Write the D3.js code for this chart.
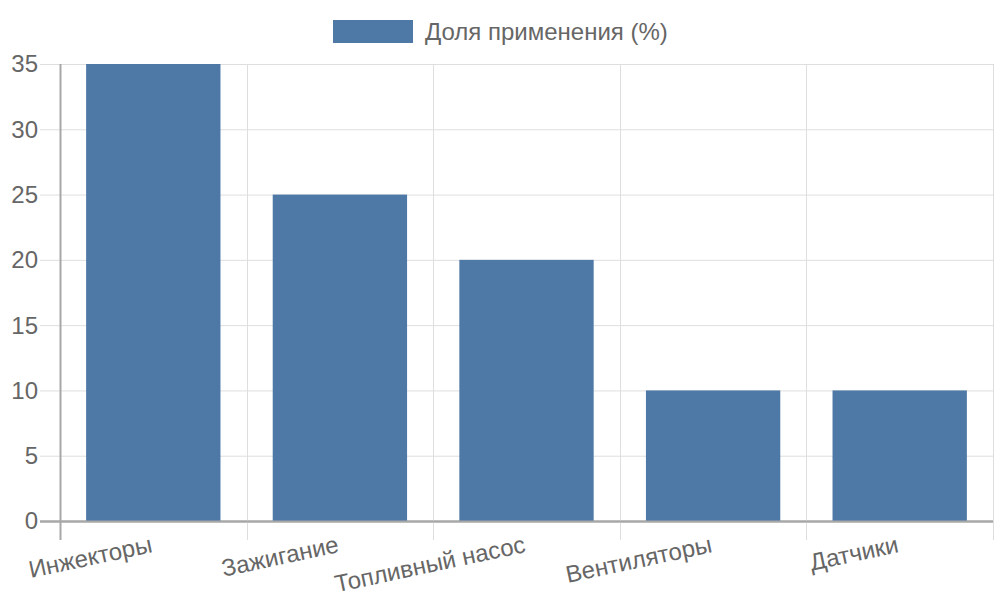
<!DOCTYPE html>
<html lang="ru">
<head>
  <meta charset="UTF-8">
  <title>Доля применения</title>
  <script src="https://d3js.org/d3.v7.min.js"></script>
  <style>
    body { margin: 0; background: #fff; }
    svg text { font-family: "Liberation Sans", Arial, sans-serif; fill: #666; }
  </style>
</head>
<body>
  <script>
    const categories = ["Инжекторы", "Зажигание", "Топливный насос", "Вентиляторы", "Датчики"];
    const values = [35, 25, 20, 10, 10];
    const seriesName = "Доля применения (%)";
    const yTicks = [0, 5, 10, 15, 20, 25, 30, 35];

    const width = 1000, height = 600;
    const margin = { top: 64, right: 7, bottom: 79, left: 60 };
    const innerW = width - margin.left - margin.right;
    const innerH = height - margin.top - margin.bottom;
    const barColor = "#4e79a7";
    const gridColor = "#dedede";
    const axisColor = "#a8a8a8";

    const svg = d3.select("body").append("svg")
      .attr("width", width)
      .attr("height", height);

    const x = d3.scaleBand()
      .domain(categories)
      .range([margin.left, margin.left + innerW]);

    const y = d3.scaleLinear()
      .domain([0, 35])
      .range([margin.top + innerH, margin.top]);

    // horizontal grid + ticks
    const g = svg.append("g");
    g.selectAll(".hgrid")
      .data(yTicks)
      .enter().append("line")
      .attr("x1", margin.left - 20)
      .attr("x2", margin.left + innerW)
      .attr("y1", d => y(d) + 0.5)
      .attr("y2", d => y(d) + 0.5)
      .attr("stroke", d => d === 0 ? axisColor : gridColor)
      .attr("stroke-width", d => d === 0 ? 2 : 1);

    // vertical grid at category edges
    const edges = categories.map(c => x(c)).concat([x.range()[1]]);
    g.selectAll(".vgrid")
      .data(edges)
      .enter().append("line")
      .attr("x1", d => Math.round(d) + 0.5)
      .attr("x2", d => Math.round(d) + 0.5)
      .attr("y1", margin.top)
      .attr("y2", margin.top + innerH + 19)
      .attr("stroke", (d, i) => i === 0 ? axisColor : gridColor)
      .attr("stroke-width", (d, i) => i === 0 ? 2 : 1);

    // bars
    const barW = x.bandwidth() * 0.72;
    svg.append("g")
      .selectAll("rect")
      .data(values)
      .enter().append("rect")
      .attr("x", (d, i) => x(categories[i]) + (x.bandwidth() - barW) / 2)
      .attr("width", barW)
      .attr("y", d => y(d))
      .attr("height", d => y(0) - y(d))
      .attr("fill", barColor);

    // redraw zero line over bars
    svg.append("line")
      .attr("x1", margin.left - 20)
      .attr("x2", margin.left + innerW)
      .attr("y1", y(0) + 0.5)
      .attr("y2", y(0) + 0.5)
      .attr("stroke", axisColor)
      .attr("stroke-width", 2);

    // y tick labels
    svg.append("g")
      .selectAll("text")
      .data(yTicks)
      .enter().append("text")
      .attr("x", margin.left - 22)
      .attr("y", d => y(d))
      .attr("dy", "0.35em")
      .attr("text-anchor", "end")
      .style("font-size", "24px")
      .text(d => d);

    // x tick labels, rotated around the end of their baseline
    svg.append("g")
      .selectAll("text")
      .data(categories)
      .enter().append("text")
      .attr("transform", d => `translate(${x(d) + x.bandwidth() / 2},${margin.top + innerH + 31}) rotate(-12)`)
      .attr("text-anchor", "end")
      .style("font-size", "24px")
      .text(d => d);

    // legend
    const legend = svg.append("g");
    legend.append("rect")
      .attr("x", 333).attr("y", 20)
      .attr("width", 80).attr("height", 23)
      .attr("fill", barColor);
    legend.append("text")
      .attr("x", 425).attr("y", 32)
      .attr("dy", "0.35em")
      .style("font-size", "24px")
      .text(seriesName);
  </script>
</body>
</html>
